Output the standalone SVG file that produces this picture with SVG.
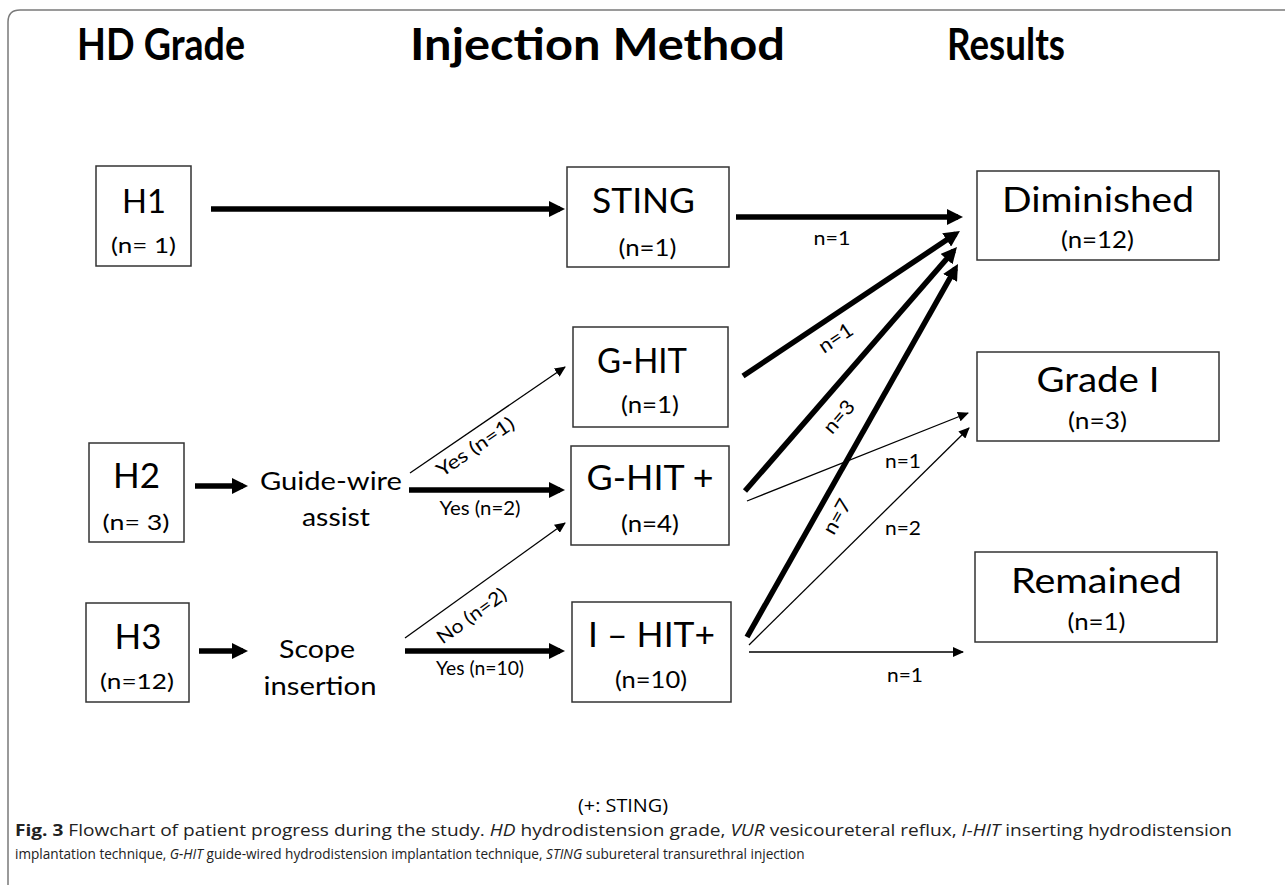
<svg xmlns="http://www.w3.org/2000/svg" width="1285" height="885" viewBox="0 0 1285 885">
<style>
  .t { font-family: Lato, "Open Sans", sans-serif; fill: #000; text-anchor: middle; }
  .title { font-weight: bold; font-size: 44px; }
  .big { font-size: 35px; }
  .mid { font-size: 25px; }
  .sm { font-size: 24px; }
  .hs { font-size: 22px; }
  .lab { font-size: 19px; }
  .nl { font-size: 20px; }
  .box { fill: #fff; stroke: #333; stroke-width: 1.5; }
  .thick { stroke: #000; stroke-width: 5.5; fill: none; marker-end: url(#ah); }
  .thin { stroke: #000; stroke-width: 1.3; fill: none; marker-end: url(#as); }
  .cap { font-family: "Open Sans", "Liberation Sans", sans-serif; font-size: 15.5px; fill: #222; }
  .it { font-style: italic; }
</style>
<defs>
  <marker id="ah" viewBox="0 0 16 16" markerUnits="userSpaceOnUse" markerWidth="16" markerHeight="16" refX="11" refY="8" orient="auto">
    <path d="M0,0 L16,8 L0,16 z" fill="#000"/>
  </marker>
  <marker id="as" viewBox="0 0 11 10" markerUnits="userSpaceOnUse" markerWidth="11" markerHeight="10" refX="10" refY="5" orient="auto">
    <path d="M0,0 L11,5 L0,10 z" fill="#000"/>
  </marker>
</defs>
<rect width="1285" height="885" fill="#fff"/>
<path d="M8,885 L8,22 Q8,10 20,10 L1285,10" fill="none" stroke="#7a7a7a" stroke-width="1.5"/>

<g id="titles">
  <text class="t title" x="161" y="60" textLength="168" lengthAdjust="spacingAndGlyphs">HD Grade</text>
  <text class="t title" x="597.5" y="60" textLength="375" lengthAdjust="spacingAndGlyphs">Injection Method</text>
  <text class="t title" x="1006" y="60" textLength="118" lengthAdjust="spacingAndGlyphs">Results</text>
</g>

<g id="connectors">
  <line class="thick" x1="211" y1="209" x2="560" y2="209"/>
  <line class="thick" x1="736" y1="217" x2="958" y2="217"/>
  <line class="thick" x1="195" y1="486" x2="243" y2="486"/>
  <line class="thick" x1="199" y1="651" x2="243" y2="651"/>
  <line class="thick" x1="409" y1="490" x2="560" y2="490"/>
  <line class="thick" x1="405" y1="651" x2="560" y2="651"/>
  <line class="thick" x1="743" y1="376" x2="955.8" y2="233.8"/>
  <line class="thick" x1="745" y1="491" x2="953.7" y2="250.8"/>
  <line class="thick" x1="747" y1="637" x2="955.5" y2="268.3"/>
  <line class="thin" x1="410" y1="473" x2="565" y2="367"/>
  <line class="thin" x1="405" y1="638" x2="565" y2="523"/>
  <line class="thin" x1="747" y1="501" x2="968" y2="413"/>
  <line class="thin" x1="749" y1="645" x2="969" y2="428"/>
  <line class="thin" x1="749" y1="652" x2="963" y2="652"/>
  <text class="t lab" transform="translate(475,446) rotate(-34.4)" dominant-baseline="central" textLength="90" lengthAdjust="spacingAndGlyphs">Yes  (n=1)</text>
  <text class="t lab" transform="translate(471,615) rotate(-35.7)" dominant-baseline="central" textLength="81" lengthAdjust="spacingAndGlyphs">No (n=2)</text>
  <text class="t lab" x="480" y="515" textLength="81" lengthAdjust="spacingAndGlyphs">Yes  (n=2)</text>
  <text class="t lab" x="480" y="675" textLength="88" lengthAdjust="spacingAndGlyphs">Yes (n=10)</text>
  <text class="t nl" x="832" y="245" textLength="37" lengthAdjust="spacingAndGlyphs">n=1</text>
  <text class="t nl" x="903" y="468" textLength="36" lengthAdjust="spacingAndGlyphs">n=1</text>
  <text class="t nl" x="903" y="535" textLength="36" lengthAdjust="spacingAndGlyphs">n=2</text>
  <text class="t nl" x="905" y="682" textLength="36" lengthAdjust="spacingAndGlyphs">n=1</text>
  <text class="t nl" transform="translate(835,337) rotate(-33.7)" dominant-baseline="central" textLength="37" lengthAdjust="spacingAndGlyphs">n=1</text>
  <text class="t nl" transform="translate(838,416) rotate(-49)" dominant-baseline="central" textLength="37" lengthAdjust="spacingAndGlyphs">n=3</text>
  <text class="t nl" transform="translate(836,516) rotate(-60.5)" dominant-baseline="central" textLength="37" lengthAdjust="spacingAndGlyphs">n=7</text>
</g>

<g id="h1">
  <rect class="box" x="96" y="166" width="95" height="100"/>
  <text class="t big" x="144" y="213" style="font-size:32px" textLength="44" lengthAdjust="spacingAndGlyphs">H1</text>
  <text class="t hs" x="143.5" y="253" textLength="65" lengthAdjust="spacingAndGlyphs">(n= 1)</text>
</g>
<g id="h2">
  <rect class="box" x="89" y="443" width="95" height="99"/>
  <text class="t big" x="136.5" y="488" textLength="47" lengthAdjust="spacingAndGlyphs">H2</text>
  <text class="t hs" x="136" y="530" textLength="67" lengthAdjust="spacingAndGlyphs">(n= 3)</text>
</g>
<g id="h3">
  <rect class="box" x="86" y="603" width="103" height="99"/>
  <text class="t big" x="138" y="649" textLength="47" lengthAdjust="spacingAndGlyphs">H3</text>
  <text class="t hs" x="137" y="689" textLength="74" lengthAdjust="spacingAndGlyphs">(n=12)</text>
</g>
<g id="guidewire">
  <text class="t mid" x="331" y="490" textLength="142" lengthAdjust="spacingAndGlyphs">Guide-wire</text>
  <text class="t mid" x="336" y="526" textLength="68" lengthAdjust="spacingAndGlyphs">assist</text>
</g>
<g id="scope">
  <text class="t mid" x="317" y="658" textLength="76" lengthAdjust="spacingAndGlyphs">Scope</text>
  <text class="t mid" x="320" y="695" textLength="113" lengthAdjust="spacingAndGlyphs">insertion</text>
</g>
<g id="sting">
  <rect class="box" x="567" y="167" width="162" height="100"/>
  <text class="t big" x="643.5" y="213" textLength="103" lengthAdjust="spacingAndGlyphs">STING</text>
  <text class="t sm" x="647.5" y="256" textLength="58" lengthAdjust="spacingAndGlyphs">(n=1)</text>
</g>
<g id="ghit">
  <rect class="box" x="573" y="327" width="155" height="100"/>
  <text class="t big" x="642" y="373" textLength="90" lengthAdjust="spacingAndGlyphs">G-HIT</text>
  <text class="t sm" x="650" y="413" textLength="58" lengthAdjust="spacingAndGlyphs">(n=1)</text>
</g>
<g id="ghitplus">
  <rect class="box" x="571" y="446" width="158" height="99"/>
  <text class="t big" x="650" y="490" textLength="127" lengthAdjust="spacingAndGlyphs">G-HIT +</text>
  <text class="t sm" x="650" y="532" textLength="58" lengthAdjust="spacingAndGlyphs">(n=4)</text>
</g>
<g id="ihitplus">
  <rect class="box" x="572" y="602" width="159" height="100"/>
  <text class="t big" x="651.5" y="647" textLength="127" lengthAdjust="spacingAndGlyphs">I – HIT+</text>
  <text class="t sm" x="651" y="688" textLength="72" lengthAdjust="spacingAndGlyphs">(n=10)</text>
</g>
<g id="diminished">
  <rect class="box" x="977" y="171" width="242" height="89"/>
  <text class="t big" x="1098" y="212" textLength="192" lengthAdjust="spacingAndGlyphs">Diminished</text>
  <text class="t sm" x="1097.5" y="248" textLength="73" lengthAdjust="spacingAndGlyphs">(n=12)</text>
</g>
<g id="gradei">
  <rect class="box" x="977" y="352" width="242" height="89"/>
  <text class="t big" x="1098" y="392" textLength="123" lengthAdjust="spacingAndGlyphs">Grade I</text>
  <text class="t sm" x="1097.5" y="429" textLength="59" lengthAdjust="spacingAndGlyphs">(n=3)</text>
</g>
<g id="remained">
  <rect class="box" x="975" y="552" width="242" height="90"/>
  <text class="t big" x="1096.5" y="593" textLength="171" lengthAdjust="spacingAndGlyphs">Remained</text>
  <text class="t sm" x="1096.5" y="630" textLength="58" lengthAdjust="spacingAndGlyphs">(n=1)</text>
</g>

<g id="caption">
  <text class="cap" x="578" y="812" textLength="90" lengthAdjust="spacingAndGlyphs" style="font-size:18px;fill:#000">(+: STING)</text>
  <text class="cap" x="15" y="836" textLength="1217" lengthAdjust="spacingAndGlyphs"><tspan font-weight="bold">Fig. 3</tspan>  Flowchart of patient progress during the study. <tspan font-style="italic">HD</tspan> hydrodistension grade, <tspan font-style="italic">VUR</tspan> vesicoureteral reflux, <tspan font-style="italic">I-HIT</tspan> inserting hydrodistension</text>
  <text class="cap" x="15" y="859" style="font-size:13.6px">implantation technique, <tspan font-style="italic">G-HIT</tspan> guide-wired hydrodistension implantation technique, <tspan font-style="italic">STING</tspan> subureteral transurethral injection</text>
</g>
</svg>
